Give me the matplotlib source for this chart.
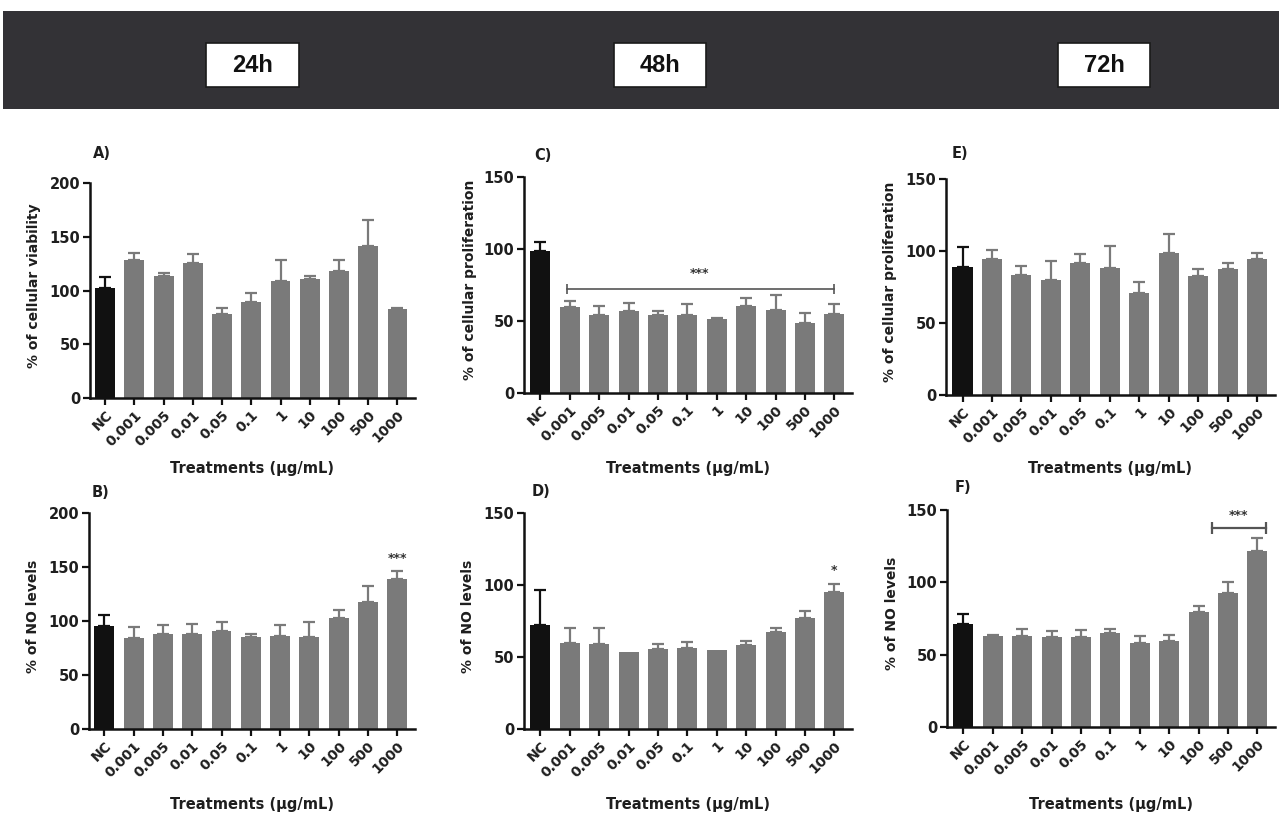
import matplotlib
matplotlib.use('Agg')
import matplotlib.pyplot as plt
from matplotlib.patches import Rectangle
import numpy as np

plt.rcParams['font.family'] = ['DejaVu Sans']
plt.rcParams['font.weight'] = 'bold'

# data (mean, upper SD)
conc = ['NC', '0.001', '0.005', '0.01', '0.05', '0.1', '1', '10', '100', '500', '1000']

viab_24 = [102.6, 128.5, 113.5, 126.0, 77.8, 89.0, 109.0, 110.7, 118.5, 141.0, 82.7]
viab_24_err = [10.4, 6.5, 2.5, 8.0, 5.6, 9.0, 19.5, 2.8, 10.0, 25.0, 0.7]

prol_48 = [98.8, 59.5, 54.0, 56.8, 54.0, 54.0, 51.5, 60.4, 57.4, 48.5, 54.8]
prol_48_err = [6.2, 4.5, 6.7, 5.7, 3.0, 7.5, 0.7, 5.4, 10.6, 7.1, 6.9]

prol_72 = [89.1, 94.2, 83.3, 80.0, 91.9, 88.2, 70.6, 98.4, 82.6, 87.3, 94.2]
prol_72_err = [13.9, 6.5, 6.5, 13.3, 5.8, 15.5, 7.9, 13.2, 4.7, 4.1, 4.2]

no_24 = [95.5, 84.3, 88.4, 88.4, 90.5, 85.3, 86.2, 85.3, 103.0, 117.8, 138.6]
no_24_err = [10.2, 10.3, 7.7, 8.6, 9.0, 3.1, 9.9, 14.2, 7.4, 14.9, 7.8]

no_48 = [71.9, 59.6, 58.7, 53.8, 55.4, 56.3, 55.0, 58.2, 67.2, 77.4, 95.3]
no_48_err = [24.3, 10.7, 11.6, 0.0, 3.7, 4.0, 0.4, 3.2, 2.6, 4.4, 5.6]

no_72 = [71.3, 63.0, 63.0, 62.3, 62.3, 65.0, 58.2, 59.5, 79.8, 92.8, 121.8]
no_72_err = [6.7, 0.7, 4.8, 3.9, 4.6, 2.4, 4.6, 4.0, 3.7, 7.6, 8.6]

times = ['24h', '48h', '72h']

W, H = 1279, 816
fig = plt.figure(figsize=(W / 100, H / 100), dpi=100)


def fx(x):
    return x / W


def fy(y):
    return 1 - y / H


# header band
fig.patches.append(Rectangle((fx(3), fy(109)), fx(1276), 98 / H, transform=fig.transFigure,
                             facecolor='#333236', edgecolor='none', zorder=0))
for lab, (l, r) in zip(times, [(206, 299), (614, 706), (1058, 1150)]):
    fig.patches.append(Rectangle((fx(l), fy(87)), fx(r - l), 44 / H, transform=fig.transFigure,
                                 facecolor='white', edgecolor='#1a1a1a', lw=1.2, zorder=1))
    fig.text(fx((l + r) / 2), fy(66), lab, ha='center', va='center', fontsize=17,
             fontweight='bold', color='#111111', zorder=2,
             family=['Liberation Sans Narrow', 'Liberation Sans', 'DejaVu Sans'])

GREY = '#7a7a7a'
TXT = '#1e1e1e'
panels = [
    # letter, values, err, ylabel, ymax, step, (l, r, t, b), letter pos, ylabel x
    ('A)', viab_24, viab_24_err, '% of cellular viability', 200, 50, (90, 415, 183, 398), (93, 153), 34),
    ('C)', prol_48, prol_48_err, '% of cellular proliferation', 150, 50, (524, 852, 177, 393), (534, 155), 470),
    ('E)', prol_72, prol_72_err, '% of cellular proliferation', 150, 50, (946, 1275, 179, 395), (952, 153), 890),
    ('B)', no_24, no_24_err, '% of NO levels', 200, 50, (89, 415, 513, 729), (92, 493), 33),
    ('D)', no_48, no_48_err, '% of NO levels', 150, 50, (524, 852, 513, 729), (532, 491), 468),
    ('F)', no_72, no_72_err, '% of NO levels', 150, 50, (947, 1275, 510, 727), (955, 488), 892),
]

axes = {}
x = np.arange(len(conc))
for letter, vals, err, ylab, ymax, step, (l, r, t, b), (lx, ly), ylx in panels:
    ax = fig.add_axes([fx(l), fy(b), fx(r - l), (b - t) / H])
    axes[letter] = ax
    colors = ['#111111'] + [GREY] * (len(conc) - 1)
    ax.bar(x, vals, width=0.68, color=colors, zorder=2)
    for xi, v, e, c in zip(x, vals, err, colors):
        if e > 0.5:
            ax.errorbar(xi, v, yerr=[[0], [e]], color=c, capsize=4.5, elinewidth=1.6,
                        capthick=1.6, zorder=1)
    ax.set_xlim(-0.52 if letter in ('A)', 'B)') else -0.56, 10.6)
    ax.set_ylim(0, ymax)
    ax.set_yticks(np.arange(0, ymax + 1, step))
    ax.set_xticks(x)
    ax.set_xticklabels(conc, rotation=45, ha='right', rotation_mode='anchor', fontsize=10,
                       fontweight='bold', color=TXT)
    for tl in ax.get_yticklabels():
        tl.set_fontsize(10.5)
        tl.set_fontweight('bold')
        tl.set_color(TXT)
    ax.spines['top'].set_visible(False)
    ax.spines['right'].set_visible(False)
    for s in ('left', 'bottom'):
        ax.spines[s].set_linewidth(1.8)
        ax.spines[s].set_color('#111111')
    ax.tick_params(axis='both', length=5, width=1.6, color='#111111', pad=2)
    ax.set_facecolor('none')
    fig.text(fx(lx), fy(ly), letter, ha='left', va='center', fontsize=10.5, fontweight='bold',
             color=TXT)
    fig.text(fx(ylx), fy((t + b) / 2 - 5), ylab, rotation=90, ha='center', va='center',
             fontsize=10, fontweight='bold', color=TXT)
    xl_y = 469 if t < 300 else 804
    fig.text(fx((l + r) / 2), fy(xl_y), 'Treatments (µg/mL)', ha='center', va='center',
             fontsize=10.5, fontweight='bold', color=TXT)

# significance marks
ax = axes['C)']
ax.plot([0.9, 10.0], [72.5, 72.5], color='#555555', lw=1.2, marker='|', markersize=7, mew=1.2)
ax.text(5.4, 83, '***', ha='center', va='center', fontsize=9, fontweight='bold', color='#333333')

ax = axes['B)']
ax.text(10, 158, '***', ha='center', va='center', fontsize=9, fontweight='bold', color='#333333')

ax = axes['D)']
ax.text(10, 110, '*', ha='center', va='center', fontsize=9, fontweight='bold', color='#333333')

ax = axes['F)']
ax.plot([8.45, 10.3], [137.5, 137.5], color='#555555', lw=1.6, marker='|', markersize=8, mew=1.6)
ax.text(9.35, 146, '***', ha='center', va='center', fontsize=9, fontweight='bold', color='#333333')

fig.savefig('out.png', dpi=100)
plt.close(fig)
